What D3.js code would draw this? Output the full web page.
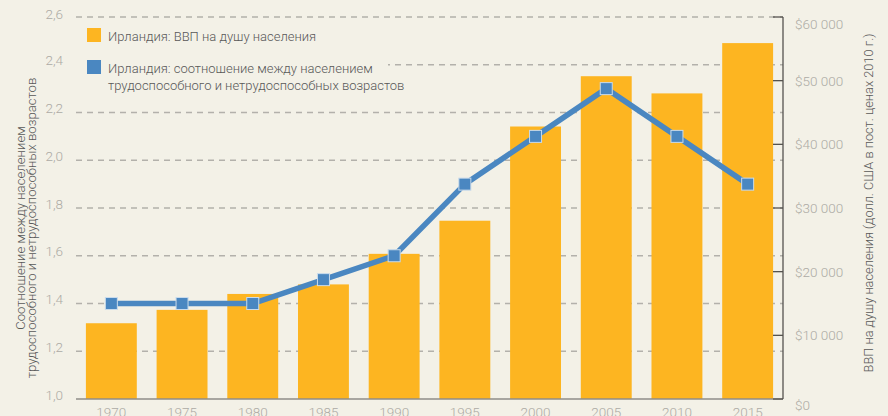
<!DOCTYPE html>
<html>
<head>
<meta charset="utf-8">
<script src="https://cdn.jsdelivr.net/npm/d3@7"></script>
<style>
  html, body { margin: 0; padding: 0; background: #f3f1e7; }
  svg { display: block; font-family: Roboto, "Open Sans", sans-serif; font-weight: 300; }
</style>
</head>
<body>
<div id="chart"></div>
<script>
/* ── Data ─────────────────────────────────────────────── */
const years = ['1970','1975','1980','1985','1990','1995','2000','2005','2010','2015'];
const gdpPerCapita = [11900, 14000, 16500, 18000, 22800, 28000, 42800, 50700, 48000, 55900];
const dependencyRatio = [1.40, 1.40, 1.40, 1.50, 1.60, 1.90, 2.10, 2.30, 2.10, 1.90];
const leftTicks = [1.0, 1.2, 1.4, 1.6, 1.8, 2.0, 2.2, 2.4, 2.6];
const rightTicks = [0, 10000, 20000, 30000, 40000, 50000, 60000];
const legendLabels = [
  ['Ирландия: ВВП на душу населения'],
  ['Ирландия: соотношение между населением', 'трудоспособного и нетрудоспособных возрастов']
];
const leftTitle = ['Соотношение между населением', 'трудоспособного и нетрудоспособных возрастов'];
const rightTitle = 'ВВП на душу населения (долл. США в пост. ценах 2010 г.)';

/* ── Layout ───────────────────────────────────────────── */
const W = 888, H = 416;
const m = { left: 76, right: 783, top: 17, bottom: 399 };
const BG = '#f3f1e7', BAR = '#fdb521', LINE = '#4a87c1', TICK = '#adaba5', TEXT = '#585858';

const ru = d3.formatLocale({ decimal: ',', thousands: '\u2009', grouping: [3], currency: ['$', ''] });
const fmtLeft = ru.format('.1f');
const fmtRight = d => '$' + ru.format(',.0f')(d).replace('\u2009', ' ');

const x = d3.scaleBand().domain(years).range([m.left, m.right])
  .paddingInner(0.28).paddingOuter(0.14);
const yL = d3.scaleLinear().domain([1.0, 2.6]).range([m.bottom, m.top]);
const yR = d3.scaleLinear().domain([0, 60000]).range([m.bottom, m.top]);

const svg = d3.select('#chart').append('svg').attr('width', W).attr('height', H);
svg.append('rect').attr('width', W).attr('height', H).attr('fill', BG);

// dashed gridlines
svg.append('g').selectAll('line')
  .data(leftTicks.slice(1))
  .join('line')
  .attr('x1', m.left).attr('x2', m.right)
  .attr('y1', d => yL(d)).attr('y2', d => yL(d))
  .attr('stroke', '#b3b1ab').attr('stroke-width', 1.3)
  .attr('stroke-dasharray', '6,5');

// bars
svg.append('g').selectAll('rect')
  .data(years)
  .join('rect')
  .attr('x', d => x(d))
  .attr('width', x.bandwidth())
  .attr('y', (d, i) => yR(gdpPerCapita[i]))
  .attr('height', (d, i) => m.bottom - yR(gdpPerCapita[i]))
  .attr('fill', BAR);

// bottom axis line
svg.append('line')
  .attr('x1', m.left).attr('x2', m.right)
  .attr('y1', m.bottom).attr('y2', m.bottom)
  .attr('stroke', '#8f8d88').attr('stroke-width', 1.3);

// left tick labels
svg.append('g').selectAll('text')
  .data(leftTicks)
  .join('text')
  .attr('x', 63).attr('y', d => yL(d) + (d === 2.6 ? 2 : 0.5))
  .attr('text-anchor', 'end')
  .attr('font-size', 13.5).attr('fill', TICK)
  .text(fmtLeft);

// right axis
const gR = svg.append('g').attr('transform', `translate(${m.right},0)`);
gR.append('line').attr('y1', m.top).attr('y2', m.bottom)
  .attr('stroke', '#55534f').attr('stroke-width', 1.3);
gR.selectAll('line.tick')
  .data(rightTicks)
  .join('line').attr('class', 'tick')
  .attr('x1', -10).attr('x2', 0)
  .attr('y1', d => yR(d)).attr('y2', d => yR(d))
  .attr('stroke', '#55534f').attr('stroke-width', 1.3);
gR.selectAll('text')
  .data(rightTicks)
  .join('text')
  .attr('x', 12)
  .attr('y', d => yR(d) + (d === 0 ? 10.5 : d === 60000 ? 12 : 5))
  .attr('font-size', 13.5).attr('fill', TICK)
  .text(fmtRight);

// x labels
svg.append('g').selectAll('text')
  .data(years)
  .join('text')
  .attr('x', d => x(d) + x.bandwidth() / 2)
  .attr('y', 416.5)
  .attr('text-anchor', 'middle')
  .attr('font-size', 13.5).attr('fill', TICK)
  .text(d => d);

// ratio line
const pts = years.map((d, i) => [x(d) + x.bandwidth() / 2, yL(dependencyRatio[i])]);
svg.append('path')
  .datum(pts)
  .attr('d', d3.line())
  .attr('fill', 'none')
  .attr('stroke', LINE).attr('stroke-width', 5.5)
  .attr('stroke-linejoin', 'round');
svg.append('g').selectAll('rect')
  .data(pts)
  .join('rect')
  .attr('x', d => d[0] - 6).attr('y', d => d[1] - 6)
  .attr('width', 12).attr('height', 12)
  .attr('fill', LINE)
  .attr('stroke', '#c9dbec').attr('stroke-width', 1);

// legend (its box hides the gridline behind it)
const lg = svg.append('g');
lg.append('rect').attr('x', 70).attr('y', 24).attr('width', 318).attr('height', 72).attr('fill', BG);
[BAR, LINE].forEach((c, i) => {
  const y0 = 28 + i * 32;
  lg.append('rect').attr('x', 87).attr('y', y0).attr('width', 14).attr('height', 14).attr('fill', c);
  lg.append('text')
    .attr('x', 108).attr('y', y0 + 13)
    .attr('font-size', 13).attr('fill', TEXT)
    .selectAll('tspan')
    .data(legendLabels[i])
    .join('tspan')
    .attr('x', 108).attr('dy', (d, j) => j ? 16.5 : 0)
    .text(d => d);
});

// axis titles
svg.append('text')
  .attr('transform', 'translate(24.5,228) rotate(-90)')
  .attr('text-anchor', 'middle')
  .attr('font-size', 13.2).attr('fill', TEXT)
  .selectAll('tspan')
  .data(leftTitle)
  .join('tspan')
  .attr('x', 0).attr('dy', (d, j) => j ? 11.8 : 0)
  .text(d => d);

svg.append('text')
  .attr('transform', 'translate(873,203) rotate(-90)')
  .attr('text-anchor', 'middle')
  .attr('font-size', 12.8).attr('fill', TEXT)
  .text(rightTitle);
</script>
</body>
</html>
